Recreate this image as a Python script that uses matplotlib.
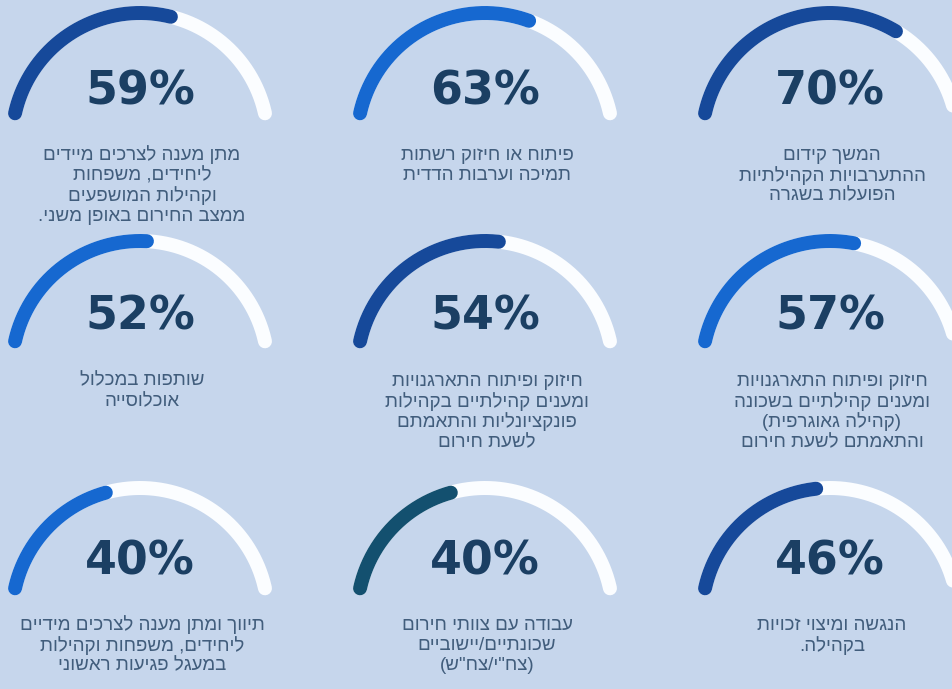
import numpy as np
import matplotlib
matplotlib.use("Agg")
import matplotlib.pyplot as plt

# ---- data ----
values = [70, 63, 59, 57, 54, 52, 46, 40, 40]  # right-to-left, top-to-bottom
labels = [
    ["המשך קידום", "ההתערבויות הקהילתיות", "הפועלות בשגרה"],
    ["פיתוח או חיזוק רשתות", "תמיכה וערבות הדדית"],
    ["מתן מענה לצרכים מיידים", "ליחידים, משפחות", "וקהילות המושפעים", "ממצב החירום באופן משני."],
    ["חיזוק ופיתוח התארגנויות", "ומענים קהילתיים בשכונה", "(קהילה גאוגרפית)", "והתאמתם לשעת חירום"],
    ["חיזוק ופיתוח התארגנויות", "ומענים קהילתיים בקהילות", "פונקציונליות והתאמתם", "לשעת חירום"],
    ["שותפות במכלול", "אוכלוסייה"],
    ["הנגשה ומיצוי זכויות", "בקהילה."],
    ["עבודה עם צוותי חירום", "שכונתיים/יישוביים", "(צח\"י/צח\"ש)"],
    ["תיווך ומתן מענה לצרכים מידיים", "ליחידים, משפחות וקהילות", "במעגל פגיעות ראשוני"],
]
arc_colors = ["#16499a", "#1668d0", "#16499a",
              "#1668d0", "#16499a", "#1668d0",
              "#16499a", "#13506f", "#1668d0"]

# ---- layout ----
BG = "#c6d6ec"
col_x = [830, 485, 140]          # right column first (RTL order)
row_cy = [141, 369, 616]
pct_y = [92, 317, 562]
lab_y0 = [155, 381, 625]
line_gap = 20.5
R = 128
A0, A1 = 167.5, 12.5
LW = 14 * 72 / 100

def rtl(s):
    swap = {"(": ")", ")": "("}
    return "".join(swap.get(c, c) for c in s[::-1])

fig = plt.figure(figsize=(9.53, 6.89), dpi=100, facecolor=BG)
ax = fig.add_axes([0, 0, 1, 1])
ax.set_facecolor(BG)
ax.set_xlim(0, 953)
ax.set_ylim(689, 0)
ax.axis("off")

heb_font = ["Liberation Sans", "DejaVu Sans"]

for i, (v, lab, col) in enumerate(zip(values, labels, arc_colors)):
    r, c = divmod(i, 3)
    cx, cy = col_x[c], row_cy[r]
    t = np.radians(np.linspace(A0, A1, 200))
    ax.plot(cx + R * np.cos(t), cy - R * np.sin(t), color="#fbfdff", lw=LW,
            solid_capstyle="round", zorder=2)
    a_end = A0 - (A0 - A1) * v / 100.0
    t2 = np.radians(np.linspace(A0, a_end, 200))
    ax.plot(cx + R * np.cos(t2), cy - R * np.sin(t2), color=col, lw=LW,
            solid_capstyle="round", zorder=3)
    ax.text(cx, pct_y[r], f"{v}%", ha="center", va="center", fontsize=33,
            fontweight="bold", color="#1b3f63", family="DejaVu Sans", zorder=4)
    for k, line in enumerate(lab):
        ax.text(cx + 2, lab_y0[r] + k * line_gap, rtl(line), ha="center", va="center",
                fontsize=13.5, color="#415d7c", family=heb_font, zorder=4)

fig.savefig("out.png", dpi=100, facecolor=BG)
